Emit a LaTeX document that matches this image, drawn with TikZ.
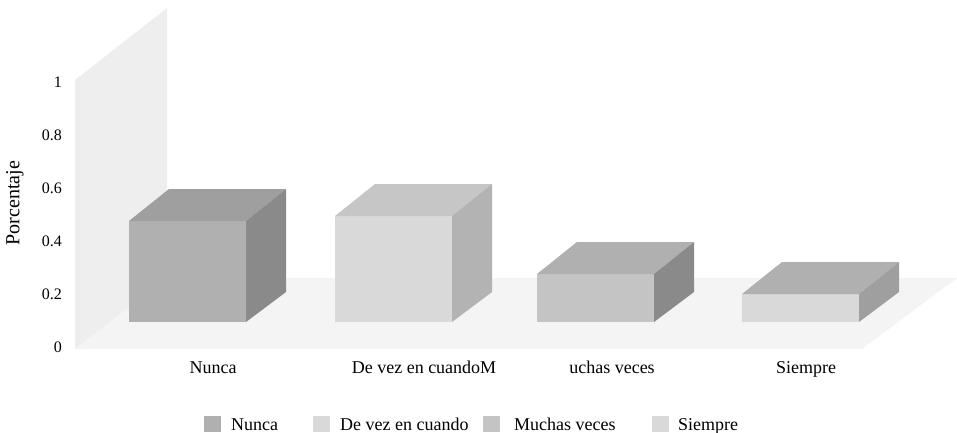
\documentclass[tikz,border=0pt]{standalone}
\usepackage{fontspec}
\setmainfont{Liberation Serif}
\usepackage{tikz}
\usetikzlibrary{positioning}
\definecolor{wallcol}{HTML}{EEEEEE}
\definecolor{floorcol}{HTML}{F4F4F4}
\definecolor{gA}{HTML}{B0B0B0}
\definecolor{gB}{HTML}{9F9F9F}
\definecolor{gC}{HTML}{8A8A8A}
\definecolor{gD}{HTML}{D9D9D9}
\definecolor{gE}{HTML}{C6C6C6}
\definecolor{gF}{HTML}{B3B3B3}
\definecolor{gG}{HTML}{C4C4C4}
\tikzstyle{tick} = [anchor=east, inner sep=0pt, font=\fontsize{16}{16}\selectfont]
\tikzstyle{cat} = [anchor=base, inner sep=0pt, font=\fontsize{18}{18}\selectfont]
\tikzstyle{leg} = [anchor=base west, inner sep=0pt, font=\fontsize{18}{18}\selectfont]
\tikzstyle{legbox} = [rectangle, minimum width=17pt, minimum height=16pt, inner sep=0pt, anchor=north west]
% box: x of front left, y of front top, front, top, side colours
\newcommand{\cuboid}[5]{
	\fill [#3] (#1,322) rectangle ({#1+117},#2);
	\fill [#4] (#1,#2) -- ({#1+40},{#2-32}) -- ({#1+157},{#2-32}) -- ({#1+117},#2) -- cycle;
	\fill [#5] ({#1+117},#2) -- ({#1+157},{#2-32}) -- ({#1+157},292) -- ({#1+117},322) -- cycle;
}
\begin{document}
\begin{tikzpicture}[x=1pt, y=-1pt]
			\useasboundingbox (0,0) rectangle (957,433);
			
			% walls
			\fill [wallcol] (75,349) -- (75,80) -- (167,8) -- (167,278) -- cycle;
			\fill [floorcol] (75,349) -- (167,278) -- (957,278) -- (862,349) -- cycle;
			
			\foreach \v/\y in {0/347, 0.2/294, 0.4/241, 0.6/188, 0.8/135, 1/82}
				\node [tick] (tick\y) at (62,\y) {\v};
			\node [rotate=90, font=\fontsize{20}{20}\selectfont] (ylabel) at (15,203) {Porcentaje};
			
			\cuboid{129}{221}{gA}{gB}{gC}
			\cuboid{335}{216}{gD}{gE}{gF}
			\cuboid{537}{274}{gG}{gA}{gC}
			\cuboid{742}{294}{gD}{gA}{gB}
			
			\node [cat] (c_nunca) at (213,373) {Nunca};
			\node [cat] (c_devez) at (424,373) {De vez en cuandoM};
			\node [cat] (c_muchas) at (612,373) {uchas veces};
			\node [cat] (c_siempre) at (806,373) {Siempre};
			
			% legend
			\node [legbox, fill=gA] (l_nunca) at (204,416) {};
			\node [leg] (lt_nunca) at (231,430) {Nunca};
			\node [legbox, fill=gD] (l_devez) at (313,416) {};
			\node [leg] (lt_devez) at (340,430) {De vez en cuando};
			\node [legbox, fill=gG] (l_muchas) at (483,416) {};
			\node [leg] (lt_muchas) at (514,430) {Muchas veces};
			\node [legbox, fill=gD] (l_siempre) at (652,416) {};
			\node [leg] (lt_siempre) at (678,430) {Siempre};
		\end{tikzpicture}
\end{document}
